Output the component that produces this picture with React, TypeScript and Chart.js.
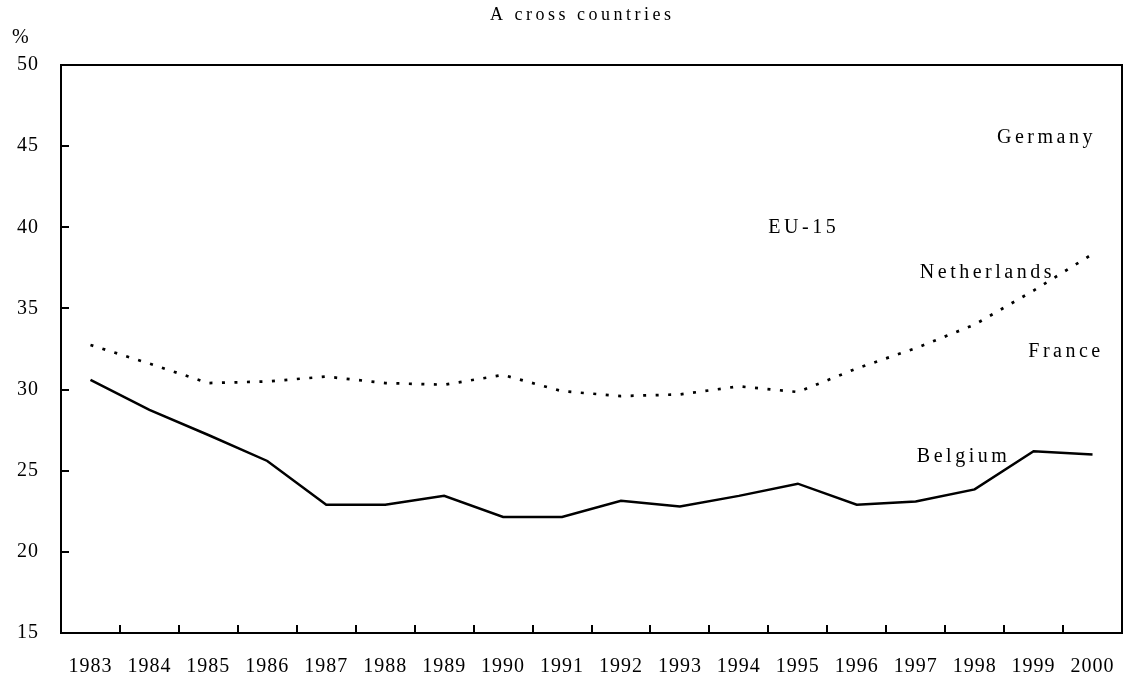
import React, { useEffect, useRef } from "react";
import { Chart, registerables } from "chart.js";

Chart.register(...registerables);

const years = [
  "1983", "1984", "1985", "1986", "1987", "1988", "1989", "1990", "1991",
  "1992", "1993", "1994", "1995", "1996", "1997", "1998", "1999", "2000",
];

const belgium = [
  30.6, 28.75, 27.2, 25.6, 22.9, 22.9, 23.45, 22.15, 22.15,
  23.15, 22.8, 23.45, 24.2, 22.9, 23.1, 23.85, 26.2, 26.0,
];

const netherlands = [
  32.75, 31.6, 30.4, 30.5, 30.8, 30.4, 30.3, 30.9, 29.9,
  29.6, 29.7, 30.2, 29.85, 31.3, 32.55, 34.0, 36.1, 38.35,
];

const yMin = 15;
const yMax = 50;
const yStep = 5;

const labelNames = ["Germany", "EU-15", "Netherlands", "France", "Belgium"];
const labelX = [15.38, 11.5, 14.07, 15.91, 14.02];
const labelY = [45.2, 39.65, 36.88, 32.03, 25.56];

const titleText = "A cross countries";
const unitText = "%";

const FONT = "'Liberation Serif', 'Times New Roman', serif";

const framePlugin = {
  id: "frameAndLabels",
  beforeDraw(chart: any) {
    (chart.ctx as any).letterSpacing = "1px";
  },
  afterDraw(chart: any) {
    const ctx = chart.ctx as any;
    const a = chart.chartArea;
    const xs = chart.scales.x;
    const ys = chart.scales.y;
    ctx.save();
    ctx.strokeStyle = "#000";
    ctx.lineWidth = 2;
    ctx.strokeRect(a.left, a.top, a.right - a.left, a.bottom - a.top);

    ctx.beginPath();
    for (let i = 1; i < years.length; i++) {
      const px = Math.round((xs.getPixelForValue(i - 1) + xs.getPixelForValue(i)) / 2);
      ctx.moveTo(px, a.bottom);
      ctx.lineTo(px, a.bottom - 8);
    }
    ys.ticks.forEach((t: any) => {
      const py = Math.round(ys.getPixelForValue(t.value));
      ctx.moveTo(a.left, py);
      ctx.lineTo(a.left + 8, py);
    });
    ctx.stroke();

    ctx.fillStyle = "#000";
    ctx.textBaseline = "alphabetic";
    ctx.textAlign = "left";
    ctx.font = `20px ${FONT}`;
    ctx.letterSpacing = "3.5px";
    labelNames.forEach((n, i) => {
      ctx.fillText(n, xs.getPixelForValue(labelX[i]), ys.getPixelForValue(labelY[i]));
    });

    ctx.font = `18px ${FONT}`;
    ctx.letterSpacing = "3.5px";
    ctx.fillText(titleText, 490, 19.5);

    ctx.font = `20px ${FONT}`;
    ctx.letterSpacing = "0px";
    ctx.fillText(unitText, 12, 43);
    ctx.restore();
    ctx.letterSpacing = "0px";
  },
};

export default function App() {
  const canvasRef = useRef<HTMLCanvasElement | null>(null);

  useEffect(() => {
    if (!canvasRef.current) return;
    Chart.defaults.font.family = FONT;
    const chart = new Chart(canvasRef.current, {
      type: "line",
      data: {
        labels: years,
        datasets: [
          {
            label: "Belgium",
            data: belgium,
            borderColor: "#000",
            borderWidth: 2.5,
            pointRadius: 0,
            tension: 0,
            fill: false,
          },
          {
            label: "Netherlands",
            data: netherlands,
            borderColor: "#000",
            borderWidth: 2.7,
            borderDash: [3, 9.5],
            borderCapStyle: "butt",
            pointRadius: 0,
            tension: 0,
            fill: false,
          },
        ],
      },
      options: {
        animation: false,
        responsive: false,
        devicePixelRatio: 1,
        layout: { padding: { top: 65, right: 3, left: 0, bottom: 0 } },
        plugins: {
          legend: { display: false },
          tooltip: { enabled: false },
          title: { display: false },
        },
        scales: {
          x: {
            type: "category",
            offset: true,
            grid: { display: false, drawTicks: false, tickLength: 0 },
            border: { display: false },
            ticks: {
              color: "#000",
              font: { family: FONT, size: 20 },
              padding: 22,
              autoSkip: false,
              maxRotation: 0,
              minRotation: 0,
            },
            afterFit: (s: any) => {
              s.height = 50;
              s.paddingLeft = 0;
              s.paddingRight = 0;
            },
          },
          y: {
            min: yMin,
            max: yMax,
            grid: { display: false, drawTicks: false, tickLength: 0 },
            border: { display: false },
            ticks: {
              stepSize: yStep,
              color: "#000",
              font: { family: FONT, size: 20 },
              padding: 22,
            },
            afterFit: (s: any) => {
              s.width = 61;
            },
          },
        },
      },
      plugins: [framePlugin],
    });
    return () => chart.destroy();
  }, []);

  return (
    <div style={{ position: "fixed", left: 0, top: 0, width: 1125, height: 683, background: "#fff" }}>
      <canvas ref={canvasRef} width={1125} height={683} style={{ display: "block" }} />
    </div>
  );
}
